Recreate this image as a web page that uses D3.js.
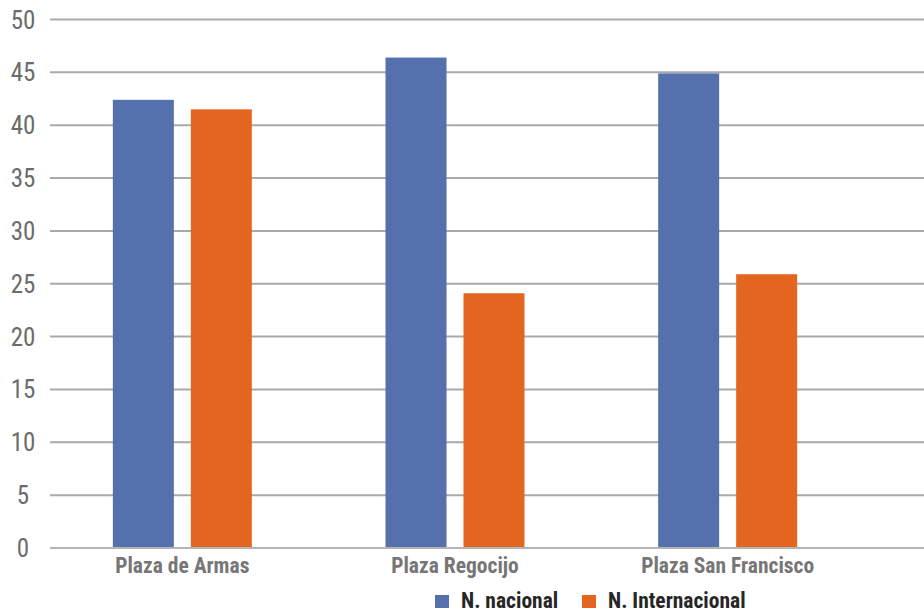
<!DOCTYPE html>
<html>
<head>
<meta charset="utf-8">
<script src="https://cdn.jsdelivr.net/npm/d3@7"></script>
<style>
  html, body { margin: 0; padding: 0; background: #fff; }
  svg { display: block; }
  text { font-family: "Liberation Sans Narrow", "Roboto Condensed", "Arial Narrow", sans-serif; }
</style>
</head>
<body>
<svg id="chart" width="924" height="613"></svg>
<script>
// Data
const categories = ["Plaza de Armas", "Plaza Regocijo", "Plaza San Francisco"];
const seriesNames = ["N. nacional", "N. Internacional"];
const nacional = [42.4, 46.4, 44.9];
const internacional = [41.5, 24.1, 25.9];
const yTicks = [0, 5, 10, 15, 20, 25, 30, 35, 40, 45, 50];
const colors = ["#5470ad", "#e4651f"];

const seriesValues = [nacional, internacional];
const rows = categories.map((c, i) => ({
  category: c,
  values: seriesNames.map((s, j) => ({ series: s, value: seriesValues[j][i], idx: j }))
}));

const svg = d3.select("#chart");

const y = d3.scaleLinear().domain([0, 50]).range([548, 19.5]);
const x0 = d3.scaleBand().domain(categories).range([46, 864]).paddingInner(0).paddingOuter(0);
const x1 = d3.scaleBand().domain(seriesNames).range([0, x0.bandwidth()])
  .paddingInner(17 / 78).paddingOuter(0.857);

// Horizontal gridlines
svg.append("g")
  .selectAll("line")
  .data(yTicks)
  .join("line")
  .attr("x1", 50).attr("x2", 924)
  .attr("y1", d => y(d)).attr("y2", d => y(d))
  .attr("stroke", "#a9a9a9")
  .attr("stroke-width", 2);

// Y tick labels
svg.append("g")
  .selectAll("text")
  .data(yTicks)
  .join("text")
  .attr("x", 23)
  .attr("y", d => y(d))
  .attr("dy", "0.36em")
  .attr("text-anchor", "middle")
  .attr("font-size", 25)
  .attr("fill", "#6b6b6b")
  .text(d => d);

// Bars
const groups = svg.append("g")
  .selectAll("g")
  .data(rows)
  .join("g")
  .attr("transform", d => `translate(${x0(d.category)},0)`);

groups.selectAll("rect")
  .data(d => d.values)
  .join("rect")
  .attr("x", d => x1(d.series))
  .attr("width", x1.bandwidth())
  .attr("y", d => y(d.value))
  .attr("height", d => y(0) - y(d.value))
  .attr("fill", d => colors[d.idx]);

// Baseline over bars
svg.append("line")
  .attr("x1", 50).attr("x2", 924)
  .attr("y1", y(0)).attr("y2", y(0))
  .attr("stroke", "#b4b4b4")
  .attr("stroke-width", 2);

// Category labels
svg.append("g")
  .selectAll("text")
  .data(categories)
  .join("text")
  .attr("x", d => x0(d) + x0.bandwidth() / 2)
  .attr("y", 573)
  .attr("text-anchor", "middle")
  .attr("font-size", 21.5)
  .attr("font-weight", "bold")
  .attr("fill", "#767676")
  .text(d => d);

// Legend
const legendItems = [
  { name: seriesNames[0], color: colors[0], sx: 435, tx: 461 },
  { name: seriesNames[1], color: colors[1], sx: 582, tx: 608 }
];
const legend = svg.append("g");
legend.selectAll("rect")
  .data(legendItems)
  .join("rect")
  .attr("x", d => d.sx).attr("y", 595)
  .attr("width", 14).attr("height", 13)
  .attr("fill", d => d.color);
legend.selectAll("text")
  .data(legendItems)
  .join("text")
  .attr("x", d => d.tx).attr("y", 608)
  .attr("font-size", 21.5)
  .attr("font-weight", "bold")
  .attr("fill", "#262626")
  .text(d => d.name);
</script>
</body>
</html>
